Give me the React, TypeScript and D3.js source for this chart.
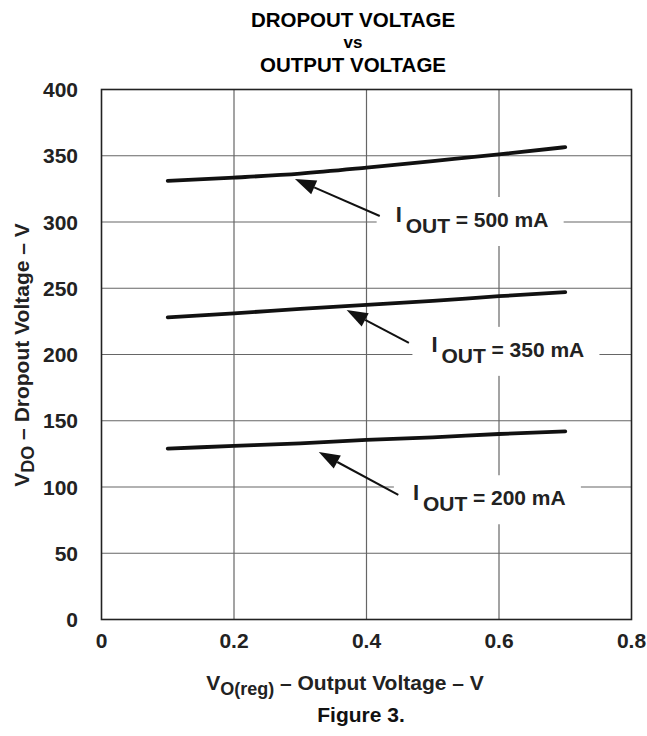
import React from "react";
import * as d3 from "d3";

// values (dropout voltage in mV vs output voltage in V)
const outVolts = [0.1, 0.2, 0.3, 0.4, 0.5, 0.6, 0.7];
const drop500 = [331, 333.5, 336.5, 341, 346, 351, 356.5];
const drop350 = [228, 231, 234.5, 237.5, 240.5, 244, 247];
const drop200 = [129, 131, 133, 135.5, 137.5, 140, 142];

const xTicks = [0, 0.2, 0.4, 0.6, 0.8];
const xTickLabels = ["0", "0.2", "0.4", "0.6", "0.8"];
const yTicks = [0, 50, 100, 150, 200, 250, 300, 350, 400];

// annotation: label anchor and arrow (from -> tip) in data units
const notes = [
  { name: "500 mA", at: [0.444, 300], from: [0.42, 304.5], tip: [0.292, 332.5] },
  { name: "350 mA", at: [0.498, 202], from: [0.464, 208.7], tip: [0.37, 233.6] },
  { name: "200 mA", at: [0.47, 90], from: [0.448, 94], tip: [0.328, 126.4] },
];

const W = 647, H = 736;
const margin = { top: 89.5, right: 15.5, bottom: 116.5, left: 101.5 };
const font = "'Liberation Sans', Arial, Helvetica, sans-serif";

export default function App() {
  const x = d3.scaleLinear().domain([0, 0.8]).range([margin.left, W - margin.right]);
  const y = d3.scaleLinear().domain([0, 400]).range([H - margin.bottom, margin.top]);

  const line = d3.line<number>()
    .x((_, i) => x(outVolts[i]))
    .y(d => y(d))
    .curve(d3.curveMonotoneX);

  const series = [drop500, drop350, drop200];

  const arrowHead = (from: number[], tip: number[]) => {
    const x0 = x(from[0]), y0 = y(from[1]);
    const x1 = x(tip[0]), y1 = y(tip[1]);
    const a = Math.atan2(y1 - y0, x1 - x0);
    const len = 21, half = 7.5;
    const bx = x1 - len * Math.cos(a), by = y1 - len * Math.sin(a);
    const p = [
      [x1, y1],
      [bx + half * Math.sin(a), by - half * Math.cos(a)],
      [bx - half * Math.sin(a), by + half * Math.cos(a)],
    ];
    return { shaft: [x0, y0, bx, by], head: p.map(q => q.join(",")).join(" ") };
  };

  return (
    <svg width={W} height={H} style={{ position: "absolute", left: 0, top: 0, background: "#fff" }}
      fontFamily={font} fontWeight="bold">
      {/* title */}
      <text x={353} y={27} textAnchor="middle" fontSize={20.5}>DROPOUT VOLTAGE</text>
      <text x={353} y={48} textAnchor="middle" fontSize={17}>vs</text>
      <text x={353} y={72} textAnchor="middle" fontSize={20.5}>OUTPUT VOLTAGE</text>

      {/* grid */}
      {xTicks.slice(1, -1).map(t => (
        <line key={"gx" + t} x1={x(t)} x2={x(t)} y1={y(0)} y2={y(400)} stroke="#666" strokeWidth={1.2} />
      ))}
      {yTicks.slice(1, -1).map(t => (
        <line key={"gy" + t} x1={x(0)} x2={x(0.8)} y1={y(t)} y2={y(t)} stroke="#666" strokeWidth={1.2} />
      ))}
      <rect x={x(0)} y={y(400)} width={x(0.8) - x(0)} height={y(0) - y(400)}
        fill="none" stroke="#222" strokeWidth={1.6} />

      {/* label gaps in the grid */}
      {notes.map(n => (
        <rect key={"bg" + n.name} x={x(n.at[0]) - 19} y={y(n.at[1]) - 25} width={187} height={49} fill="#fff" />
      ))}

      {/* curves */}
      {series.map((s, i) => (
        <path key={"s" + i} d={line(s) || ""} fill="none" stroke="#111" strokeWidth={3.8} strokeLinecap="round" />
      ))}

      {/* annotations */}
      {notes.map(n => {
        const a = arrowHead(n.from, n.tip);
        const ax = x(n.at[0]), ay = y(n.at[1]);
        return (
          <g key={"n" + n.name}>
            <line x1={a.shaft[0]} y1={a.shaft[1]} x2={a.shaft[2]} y2={a.shaft[3]} stroke="#111" strokeWidth={2} />
            <polygon points={a.head} fill="#111" />
            <text fontSize={21} fill="#222">
              <tspan x={ax} y={ay} fontSize={22}>I</tspan>
              <tspan x={ax + 10} y={ay + 11}>OUT</tspan>
              <tspan x={ax + 60} y={ay + 5}>= {n.name}</tspan>
            </text>
          </g>
        );
      })}

      {/* y ticks */}
      {yTicks.map(t => (
        <text key={"yt" + t} x={78} y={y(t) + 7.5} textAnchor="end" fontSize={21} fill="#222">{t}</text>
      ))}
      {/* x ticks */}
      {xTicks.map((t, i) => (
        <text key={"xt" + t} x={x(t)} y={648} textAnchor="middle" fontSize={21} fill="#222">{xTickLabels[i]}</text>
      ))}

      {/* axis titles */}
      <text transform={`translate(29,355) rotate(-90)`} textAnchor="middle" fontSize={21} fill="#222">
        V<tspan fontSize={18} dy={5}>DO</tspan><tspan dy={-5}> – Dropout Voltage – V</tspan>
      </text>
      <text x={345} y={690} textAnchor="middle" fontSize={21} fill="#222">
        V<tspan fontSize={18} dy={5}>O(reg)</tspan><tspan dy={-5}> – Output Voltage – V</tspan>
      </text>
      <text x={361} y={722} textAnchor="middle" fontSize={21} fill="#111">Figure 3.</text>
    </svg>
  );
}
